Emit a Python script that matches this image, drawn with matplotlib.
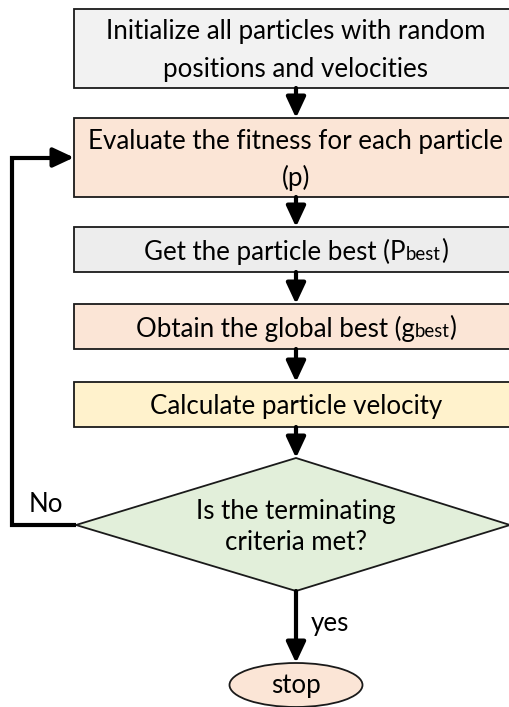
import matplotlib
matplotlib.use("Agg")
import matplotlib.pyplot as plt
from matplotlib.patches import Rectangle, Polygon, Ellipse, FancyArrowPatch

# ---- content ----
step_labels = [
    [[("Initialize all particles with random", 1)], [("positions and velocities", 1)]],
    [[("Evaluate the fitness for each particle", 1)], [("(p)", 1)]],
    [[("Get the particle best (P", 1), ("best", 0.72), (")", 1)]],
    [[("Obtain the global best (g", 1), ("best", 0.72), (")", 1)]],
    [[("Calculate particle velocity", 1)]],
]
step_colors = ["#F2F2F2", "#FBE5D6", "#EDEDED", "#FBE5D6", "#FFF2CC"]
decision_label = ["Is the terminating", "criteria met?"]
decision_color = "#E2EFDA"
end_label = "stop"
end_color = "#FBE5D6"
no_label = "No"
yes_label = "yes"

# ---- layout (pixels, y down) ----
W, H = 509, 707
cx = 296
box_left, box_right = 74, 518
box_tops = [9, 118, 227, 304, 382]
box_bottoms = [88, 197, 272, 349, 427]
dia_top, dia_bot, dia_left, dia_right, dia_cy = 458, 591, 76, 510, 525
stop_cy, stop_w, stop_h = 685, 133, 44
loop_x = 12
fs = 18.6
FONT = "Lato"

fig = plt.figure(figsize=(W / 100, H / 100), dpi=100)
ax = fig.add_axes([0, 0, 1, 1])
ax.set_xlim(0, W)
ax.set_ylim(H, 0)
ax.axis("off")

renderer = fig.canvas.get_renderer()


def rich_line(x, y, parts):
    texts = []
    total = 0
    for s, scale in parts:
        t = ax.text(0, 0, s, fontsize=fs * scale, family=FONT)
        bb = t.get_window_extent(renderer=renderer)
        texts.append((t, bb.width, scale))
        total += bb.width
    px = x - total / 2
    for t, w, scale in texts:
        t.set_position((px, y + (3 if scale < 1 else 0)))
        t.set_ha("left")
        t.set_va("center")
        px += w


ec = "#1a1a1a"
lw_box = 1.3
for i, lines in enumerate(step_labels):
    top, bot = box_tops[i], box_bottoms[i]
    ax.add_patch(Rectangle((box_left, top), box_right - box_left, bot - top,
                           facecolor=step_colors[i], edgecolor=ec, lw=lw_box))
    n = len(lines)
    mid = (top + bot) / 2 + 2
    spacing = 37
    for j, parts in enumerate(lines):
        y = mid + (j - (n - 1) / 2) * spacing
        rich_line(cx, y, parts)

# diamond
ax.add_patch(Polygon([(cx, dia_top), (dia_right, dia_cy), (cx, dia_bot), (dia_left, dia_cy)],
                     closed=True, facecolor=decision_color, edgecolor=ec, lw=lw_box))
for j, s in enumerate(decision_label):
    ax.text(cx, dia_cy - 13 + j * 31, s, fontsize=fs, family=FONT, ha="center", va="center")

# stop
ax.add_patch(Ellipse((cx, stop_cy), stop_w, stop_h, facecolor=end_color, edgecolor=ec, lw=lw_box))
ax.text(cx, stop_cy + 1, end_label, fontsize=fs, family=FONT, ha="center", va="center")


def arrow(p0, p1):
    ax.add_patch(FancyArrowPatch(p0, p1, arrowstyle="-|>,head_length=0.9,head_width=0.42",
                                 mutation_scale=14, color="black", lw=3, shrinkA=0, shrinkB=0))


for i in range(len(box_tops) - 1):
    arrow((cx, box_bottoms[i]), (cx, box_tops[i + 1]))
arrow((cx, box_bottoms[-1]), (cx, dia_top))
arrow((cx, dia_bot), (cx, stop_cy - stop_h / 2))

# loop back
loop_y = (box_tops[1] + box_bottoms[1]) / 2
ax.plot([dia_left, loop_x, loop_x, box_left - 12], [dia_cy, dia_cy, loop_y, loop_y], color="black", lw=3,
        solid_joinstyle="miter", solid_capstyle="butt")
arrow((box_left - 14, loop_y), (box_left, loop_y))

ax.text(29, 504, no_label, fontsize=fs, family=FONT, ha="left", va="center")
ax.text(311, 624, yes_label, fontsize=fs, family=FONT, ha="left", va="center")

fig.savefig("out.png", dpi=100)
